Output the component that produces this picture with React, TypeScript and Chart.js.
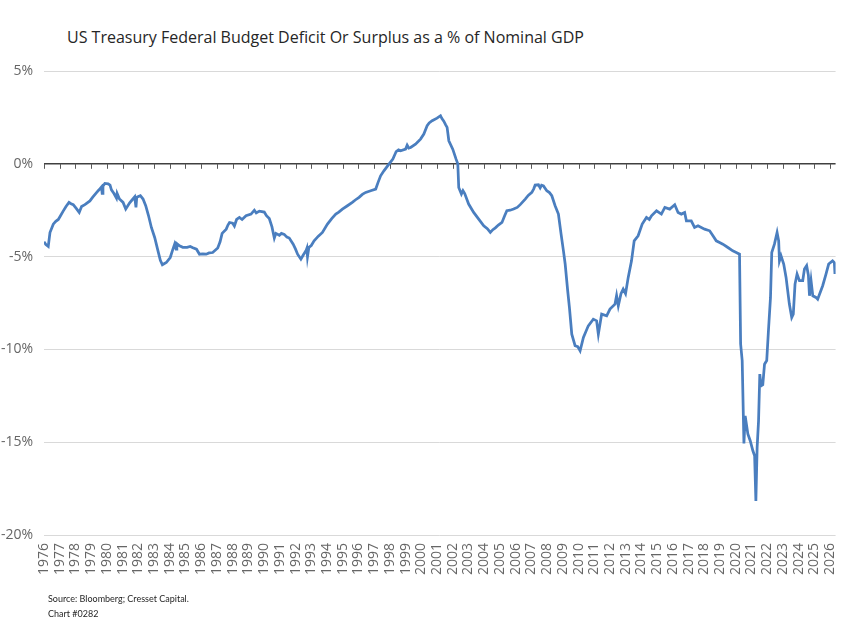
import React, { useEffect, useRef } from "react";
import { Chart, registerables } from "chart.js";

Chart.register(...registerables);

const TITLE = "US Treasury Federal Budget Deficit Or Surplus as a % of Nominal GDP";
const SOURCE_LINES = ["Source: Bloomberg; Cresset Capital.", "Chart #0282"];

const yearLabels = [
  1976, 1977, 1978, 1979, 1980, 1981, 1982, 1983, 1984, 1985, 1986, 1987, 1988,
  1989, 1990, 1991, 1992, 1993, 1994, 1995, 1996, 1997, 1998, 1999, 2000, 2001,
  2002, 2003, 2004, 2005, 2006, 2007, 2008, 2009, 2010, 2011, 2012, 2013, 2014,
  2015, 2016, 2017, 2018, 2019, 2020, 2021, 2022, 2023, 2024, 2025, 2026,
];
const yTickValues = [5, 0, -5, -10, -15, -20];

// 1976 - 1989
const datesA = [
  1976.0, 1976.12, 1976.27, 1976.38, 1976.59, 1976.75, 1976.91, 1977.05, 1977.22, 1977.4,
  1977.59, 1977.72, 1977.86, 1978.05, 1978.24, 1978.39, 1978.6, 1978.92, 1979.1, 1979.34,
  1979.5, 1979.66, 1979.7, 1979.75, 1979.87, 1980.08, 1980.2, 1980.29, 1980.45, 1980.61,
  1980.65, 1980.8, 1981.03, 1981.2, 1981.45, 1981.6, 1981.77, 1981.85, 1981.9, 1982.13,
  1982.3, 1982.47, 1982.65, 1982.83, 1983.04, 1983.25, 1983.4, 1983.53, 1983.78, 1984.03,
  1984.2, 1984.31, 1984.4, 1984.45, 1984.62, 1984.83, 1985.1, 1985.3, 1985.47, 1985.7,
  1985.89, 1986.1, 1986.32, 1986.5, 1986.73, 1987.05, 1987.2, 1987.33, 1987.59, 1987.7,
  1987.8, 1988.0, 1988.11, 1988.25, 1988.43, 1988.6, 1988.85, 1989.17, 1989.38, 1989.5,
  1989.7,
];
const valuesA = [
  -4.2, -4.35, -4.45, -3.7, -3.25, -3.1, -3.0, -2.8, -2.55, -2.3,
  -2.08, -2.15, -2.2, -2.4, -2.62, -2.3, -2.2, -2.0, -1.8, -1.55,
  -1.4, -1.24, -1.6, -1.2, -1.06, -1.08, -1.15, -1.4, -1.6, -1.85,
  -1.6, -1.9, -2.08, -2.44, -2.1, -1.95, -1.78, -2.35, -1.8, -1.72,
  -1.9, -2.26, -2.8, -3.43, -3.97, -4.69, -5.2, -5.44, -5.32, -5.05,
  -4.6, -4.33, -4.6, -4.3, -4.42, -4.5, -4.5, -4.45, -4.52, -4.6,
  -4.87, -4.85, -4.87, -4.8, -4.78, -4.54, -4.2, -3.75, -3.52, -3.3,
  -3.16, -3.2, -3.35, -3.0, -2.89, -3.0, -2.8, -2.71, -2.5, -2.65,
  -2.55,
];

// 1990 - 2001
const datesB = [
  1990.01, 1990.15, 1990.33, 1990.5, 1990.65, 1990.75, 1990.97, 1991.1, 1991.28, 1991.45,
  1991.6, 1991.85, 1992.0, 1992.13, 1992.34, 1992.5, 1992.66, 1992.72, 1992.76, 1992.85,
  1993.0, 1993.18, 1993.45, 1993.71, 1994.03, 1994.3, 1994.56, 1994.75, 1994.98, 1995.3,
  1995.61, 1995.8, 1996.04, 1996.25, 1996.46, 1996.78, 1997.1, 1997.25, 1997.41, 1997.62,
  1997.94, 1998.19, 1998.4, 1998.55, 1998.68, 1999.0, 1999.1, 1999.2, 1999.32, 1999.63,
  1999.8, 1999.95, 2000.16, 2000.37, 2000.5, 2000.69, 2001.0, 2001.22, 2001.3, 2001.43,
  2001.55, 2001.64, 2001.75,
];
const valuesB = [
  -2.6, -2.8, -2.95, -3.4, -4.0, -3.75, -3.85, -3.75, -3.8, -3.95,
  -4.0, -4.33, -4.6, -4.87, -5.14, -4.9, -4.69, -4.55, -5.0, -4.5,
  -4.4, -4.15, -3.9, -3.7, -3.25, -2.95, -2.71, -2.6, -2.44, -2.26,
  -2.08, -1.95, -1.81, -1.65, -1.54, -1.45, -1.36, -1.0, -0.65, -0.38,
  -0.02, 0.25, 0.66, 0.75, 0.7, 0.79, 1.0, 0.85, 0.88, 1.06,
  1.2, 1.33, 1.6, 2.05, 2.2, 2.32, 2.46, 2.59, 2.45, 2.3,
  2.1, 1.96, 1.24,
];

// 2002 - 2013
const datesC = [
  2002.0, 2002.21, 2002.32, 2002.38, 2002.55, 2002.65, 2002.76, 2003.01, 2003.33, 2003.65,
  2003.97, 2004.2, 2004.39, 2004.55, 2004.71, 2004.9, 2005.13, 2005.3, 2005.44, 2005.65,
  2005.87, 2006.1, 2006.29, 2006.61, 2006.8, 2007.03, 2007.15, 2007.24, 2007.45, 2007.56,
  2007.65, 2007.77, 2007.98, 2008.15, 2008.3, 2008.51, 2008.72, 2008.89, 2009.04, 2009.15,
  2009.31, 2009.42, 2009.57, 2009.78, 2009.95, 2010.1, 2010.31, 2010.62, 2010.94, 2011.15,
  2011.26, 2011.47, 2011.79, 2012.0, 2012.32, 2012.42, 2012.53, 2012.7, 2012.84, 2012.99,
  2013.16, 2013.37, 2013.54, 2013.79,
];
const valuesC = [
  0.79, 0.25, 0.0, -1.28, -1.63, -1.45, -1.6, -2.17, -2.62, -2.98,
  -3.34, -3.5, -3.7, -3.55, -3.45, -3.3, -3.16, -2.8, -2.53, -2.5,
  -2.44, -2.35, -2.2, -1.9, -1.7, -1.54, -1.35, -1.15, -1.13, -1.3,
  -1.15, -1.19, -1.45, -1.55, -1.72, -2.26, -2.71, -3.79, -4.69, -5.4,
  -6.84, -7.74, -9.18, -9.8, -9.85, -10.08, -9.36, -8.73, -8.37, -8.46,
  -9.18, -8.1, -8.19, -7.83, -7.56, -7.1, -7.65, -7.0, -6.75, -7.0,
  -6.12, -5.23, -4.15, -3.88,
];

// 2014 - 2026
const datesD = [
  2014.05, 2014.32, 2014.5, 2014.64, 2014.96, 2015.27, 2015.49, 2015.8, 2016.12, 2016.33,
  2016.54, 2016.75, 2016.86, 2017.17, 2017.38, 2017.6, 2018.02, 2018.34, 2018.55, 2018.76,
  2018.97, 2019.18, 2019.5, 2019.81, 2020.03, 2020.24, 2020.31, 2020.41, 2020.52, 2020.6,
  2020.77, 2020.92, 2021.09, 2021.2, 2021.28, 2021.36, 2021.45, 2021.53, 2021.61, 2021.72,
  2021.83, 2021.97, 2022.08, 2022.21, 2022.29, 2022.46, 2022.63, 2022.73, 2022.78, 2022.88,
  2023.05, 2023.2, 2023.41, 2023.56, 2023.66, 2023.77, 2023.9, 2024.05, 2024.26, 2024.37,
  2024.51, 2024.62, 2024.69, 2024.79, 2024.9, 2025.1, 2025.21, 2025.53, 2025.74, 2025.91,
  2026.16, 2026.27, 2026.31,
];
const valuesD = [
  -3.25, -2.89, -3.0, -2.8, -2.53, -2.71, -2.35, -2.44, -2.21, -2.62,
  -2.71, -2.62, -3.07, -3.07, -3.43, -3.34, -3.52, -3.61, -3.88, -4.15,
  -4.24, -4.33, -4.51, -4.69, -4.78, -4.87, -9.71, -10.61, -15.07, -13.58,
  -14.56, -14.92, -15.46, -15.73, -18.16, -15.28, -13.85, -11.33, -11.96, -11.9,
  -10.8, -10.6, -8.98, -7.2, -4.78, -4.33, -3.7, -4.15, -5.23, -4.96,
  -5.4, -6.12, -7.56, -8.28, -8.1, -6.48, -5.94, -6.3, -6.3, -5.67,
  -5.49, -6.0, -7.11, -6.3, -7.11, -7.2, -7.3, -6.57, -5.94, -5.4,
  -5.23, -5.32, -5.94,
];

const X_MIN = 1976;
const X_MAX = 2026.35;

const TICK_FONT = "'Open Sans', sans-serif";

const zeroLineTicks = {
  id: "zeroLineTicks",
  beforeDatasetsDraw(chart: any) {
    const xs = chart.scales.x;
    const ys = chart.scales.y;
    const y0 = ys.getPixelForValue(0);
    const ctx = chart.ctx;
    ctx.save();
    ctx.strokeStyle = "#595959";
    ctx.lineWidth = 1;
    ctx.beginPath();
    yearLabels.forEach((yr) => {
      const x = Math.round(xs.getPixelForValue(yr)) + 0.5;
      ctx.moveTo(x, y0);
      ctx.lineTo(x, y0 + 5);
    });
    ctx.stroke();
    ctx.restore();
  },
};

export default function App() {
  const canvasRef = useRef<HTMLCanvasElement | null>(null);

  useEffect(() => {
    document.body.style.margin = "0";
    const canvas = canvasRef.current;
    if (!canvas) return;
    const dates = [...datesA, ...datesB, ...datesC, ...datesD];
    const values = [...valuesA, ...valuesB, ...valuesC, ...valuesD];
    const points = dates.map((d, i) => ({ x: d, y: values[i] }));

    const chart = new Chart(canvas, {
      type: "line",
      data: {
        datasets: [
          {
            data: points,
            borderColor: "#4a7ebf",
            borderWidth: 2.75,
            pointRadius: 0,
            tension: 0,
            fill: false,
          },
        ],
      },
      options: {
        animation: false,
        responsive: false,
        maintainAspectRatio: false,
        layout: { padding: { top: 71, right: 17, left: 0, bottom: 0 } },
        plugins: {
          legend: { display: false },
          tooltip: { enabled: false },
          title: { display: false },
        },
        scales: {
          x: {
            type: "linear",
            min: X_MIN,
            max: X_MAX,
            afterBuildTicks: (axis: any) => {
              axis.ticks = yearLabels.map((v) => ({ value: v }));
            },
            afterFit: (axis: any) => {
              axis.height = 86;
            },
            grid: { display: false, drawTicks: false },
            border: { display: false },
            ticks: {
              autoSkip: false,
              minRotation: 90,
              maxRotation: 90,
              padding: 8,
              color: "#666666",
              font: { family: TICK_FONT, size: 14 },
              callback: (v: any) => String(v),
            },
          },
          y: {
            type: "linear",
            min: -20,
            max: 5,
            afterBuildTicks: (axis: any) => {
              axis.ticks = yTickValues.map((v) => ({ value: v }));
            },
            afterFit: (axis: any) => {
              axis.width = 44;
            },
            grid: {
              drawTicks: false,
              color: (c: any) => (c.tick && c.tick.value === 0 ? "#404040" : "#d9d9d9"),
              lineWidth: (c: any) => (c.tick && c.tick.value === 0 ? 1.5 : 1),
            },
            border: { display: false },
            ticks: {
              padding: 11,
              color: "#666666",
              font: { family: TICK_FONT, size: 14 },
              callback: (v: any) => `${v}%`,
            },
          },
        },
      },
      plugins: [zeroLineTicks],
    } as any);

    return () => chart.destroy();
  }, []);

  return (
    <div
      style={{
        position: "fixed",
        left: 0,
        top: 0,
        width: 855,
        height: 621,
        background: "#ffffff",
        overflow: "hidden",
      }}
    >
      <div
        style={{
          position: "absolute",
          left: 67,
          top: 27,
          fontFamily: "'Open Sans', sans-serif",
          fontSize: 16,
          color: "#262626",
          whiteSpace: "nowrap",
          lineHeight: "20px",
        }}
      >
        {TITLE}
      </div>
      <canvas
        ref={canvasRef}
        width={855}
        height={621}
        style={{ position: "absolute", left: 0, top: 0, width: 855, height: 621 }}
      />
      <div
        style={{
          position: "absolute",
          left: 48,
          top: 591,
          fontFamily: "Lato, sans-serif",
          fontSize: 9,
          color: "#262626",
          lineHeight: "15px",
          whiteSpace: "nowrap",
        }}
      >
        {SOURCE_LINES.map((l) => (
          <div key={l}>{l}</div>
        ))}
      </div>
    </div>
  );
}
